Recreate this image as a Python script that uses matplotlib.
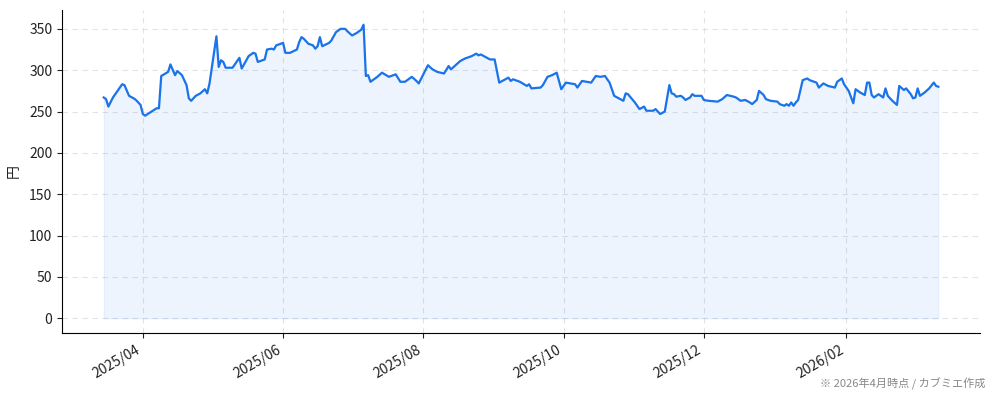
import matplotlib
matplotlib.use("Agg")
import matplotlib.pyplot as plt
import matplotlib.dates as mdates
import pandas as pd

plt.rcParams['font.family'] = ['Noto Sans CJK JP', 'DejaVu Sans']

dates = [
    "2025-03-15", "2025-03-16", "2025-03-17", "2025-03-19", "2025-03-23", "2025-03-24",
    "2025-03-26", "2025-03-28", "2025-03-29", "2025-03-31", "2025-04-01", "2025-04-02",
    "2025-04-07", "2025-04-08", "2025-04-09", "2025-04-12", "2025-04-13", "2025-04-15",
    "2025-04-16", "2025-04-18", "2025-04-20", "2025-04-21", "2025-04-22", "2025-04-24",
    "2025-04-26", "2025-04-28", "2025-04-29", "2025-04-30", "2025-05-03", "2025-05-04",
    "2025-05-05", "2025-05-06", "2025-05-07", "2025-05-10", "2025-05-13", "2025-05-14",
    "2025-05-17", "2025-05-19", "2025-05-20", "2025-05-21", "2025-05-24", "2025-05-25",
    "2025-05-27", "2025-05-28", "2025-05-29", "2025-05-31", "2025-06-01", "2025-06-02",
    "2025-06-04", "2025-06-07", "2025-06-08", "2025-06-09", "2025-06-10", "2025-06-12",
    "2025-06-14", "2025-06-15", "2025-06-16", "2025-06-17", "2025-06-18", "2025-06-21",
    "2025-06-22", "2025-06-24", "2025-06-26", "2025-06-28", "2025-06-29", "2025-07-01",
    "2025-07-03", "2025-07-05", "2025-07-06", "2025-07-07", "2025-07-08", "2025-07-09",
    "2025-07-12", "2025-07-14", "2025-07-17", "2025-07-20", "2025-07-22", "2025-07-24",
    "2025-07-27", "2025-07-29", "2025-07-30", "2025-08-03", "2025-08-05", "2025-08-07",
    "2025-08-10", "2025-08-12", "2025-08-13", "2025-08-15", "2025-08-17", "2025-08-19",
    "2025-08-20", "2025-08-22", "2025-08-24", "2025-08-25", "2025-08-26", "2025-08-28",
    "2025-08-30", "2025-09-01", "2025-09-03", "2025-09-05", "2025-09-07", "2025-09-08",
    "2025-09-09", "2025-09-12", "2025-09-15", "2025-09-16", "2025-09-17", "2025-09-21",
    "2025-09-22", "2025-09-24", "2025-09-26", "2025-09-28", "2025-09-30", "2025-10-02",
    "2025-10-06", "2025-10-07", "2025-10-09", "2025-10-13", "2025-10-15", "2025-10-17",
    "2025-10-19", "2025-10-21", "2025-10-23", "2025-10-25", "2025-10-27", "2025-10-28",
    "2025-10-29", "2025-11-01", "2025-11-03", "2025-11-05", "2025-11-06", "2025-11-09",
    "2025-11-10", "2025-11-12", "2025-11-14", "2025-11-16", "2025-11-17", "2025-11-18",
    "2025-11-19", "2025-11-21", "2025-11-22", "2025-11-23", "2025-11-25", "2025-11-26",
    "2025-11-27", "2025-11-30", "2025-12-01", "2025-12-03", "2025-12-07", "2025-12-09",
    "2025-12-11", "2025-12-14", "2025-12-15", "2025-12-17", "2025-12-19", "2025-12-21",
    "2025-12-22", "2025-12-24", "2025-12-25", "2025-12-27", "2025-12-28", "2025-12-30",
    "2026-01-02", "2026-01-03", "2026-01-05", "2026-01-06", "2026-01-07", "2026-01-08",
    "2026-01-09", "2026-01-10", "2026-01-11", "2026-01-13", "2026-01-15", "2026-01-16",
    "2026-01-19", "2026-01-20", "2026-01-22", "2026-01-24", "2026-01-27", "2026-01-28",
    "2026-01-30", "2026-01-31", "2026-02-02", "2026-02-04", "2026-02-05", "2026-02-07",
    "2026-02-09", "2026-02-10", "2026-02-11", "2026-02-12", "2026-02-13", "2026-02-15",
    "2026-02-17", "2026-02-18", "2026-02-19", "2026-02-21", "2026-02-23", "2026-02-24",
    "2026-02-26", "2026-02-27", "2026-03-01", "2026-03-02", "2026-03-03", "2026-03-04",
    "2026-03-05", "2026-03-07", "2026-03-09", "2026-03-11", "2026-03-12", "2026-03-13",
]

prices = [
    267, 265, 256, 267, 283, 282,
    269, 266, 264, 258, 247, 245,
    254, 254, 293, 298, 307, 294,
    299, 294, 282, 266, 263, 269,
    272, 277, 272, 284, 341, 304,
    312, 310, 303, 303, 315, 302,
    317, 321, 320, 310, 313, 325,
    326, 325, 330, 332, 333, 321,
    321, 325, 334, 340, 338, 332,
    330, 326, 329, 340, 329, 333,
    336, 346, 350, 350, 347, 342,
    345, 349, 355, 293, 294, 286,
    292, 297, 292, 295, 286, 286,
    292, 287, 284, 306, 301, 298,
    296, 305, 301, 306, 311, 314,
    315, 317, 320, 318, 319, 316,
    313, 313, 285, 288, 291, 287,
    289, 286, 281, 283, 278, 279,
    282, 292, 294, 297, 277, 285,
    283, 279, 287, 285, 293, 292,
    293, 285, 269, 266, 263, 272,
    271, 261, 253, 256, 251, 251,
    253, 247, 250, 282, 272, 271,
    268, 269, 267, 264, 267, 271,
    269, 269, 264, 263, 262, 265,
    270, 268, 267, 263, 264, 261,
    259, 264, 275, 270, 265, 263,
    262, 259, 257, 259, 257, 261,
    257, 261, 264, 288, 290, 288,
    285, 279, 284, 281, 279, 286,
    290, 283, 275, 260, 277, 273,
    270, 285, 285, 270, 267, 271,
    267, 278, 269, 263, 258, 281,
    276, 278, 271, 266, 267, 278,
    269, 273, 278, 285, 281, 280,
]

y_label = "円"
footnote = "※ 2026年4月時点 / カブミエ作成"

x = pd.to_datetime(dates)

fig = plt.figure(figsize=(9.94, 4.01), dpi=100)
ax = fig.add_axes([0.0624, 0.1696, 0.9236, 0.8054])

line_color = "#1a73e8"
ax.fill_between(x, 0, prices, color=line_color, alpha=0.08, linewidth=0.8)
ax.plot(x, prices, color=line_color, linewidth=1.6)

ax.set_yticks([0, 50, 100, 150, 200, 250, 300, 350])
ax.set_ylabel(y_label, fontsize=10, color="#222222", labelpad=6)
ax.grid(True, linestyle=(0, (5, 4)), color="#d9dde3", linewidth=0.8, alpha=0.8)
ax.set_axisbelow(True)

ax.xaxis.set_major_locator(mdates.MonthLocator(bymonth=[2, 4, 6, 8, 10, 12]))
ax.xaxis.set_major_formatter(mdates.DateFormatter("%Y/%m"))
for lbl in ax.get_xticklabels():
    lbl.set_rotation(30)
    lbl.set_ha("right")

ax.tick_params(axis="both", labelsize=10, colors="#222222")
ax.spines["top"].set_visible(False)
ax.spines["right"].set_visible(False)

fig.text(0.991, 0.028, footnote, ha="right", va="bottom", fontsize=8, color="#888888")

fig.savefig("out.png", dpi=100)
